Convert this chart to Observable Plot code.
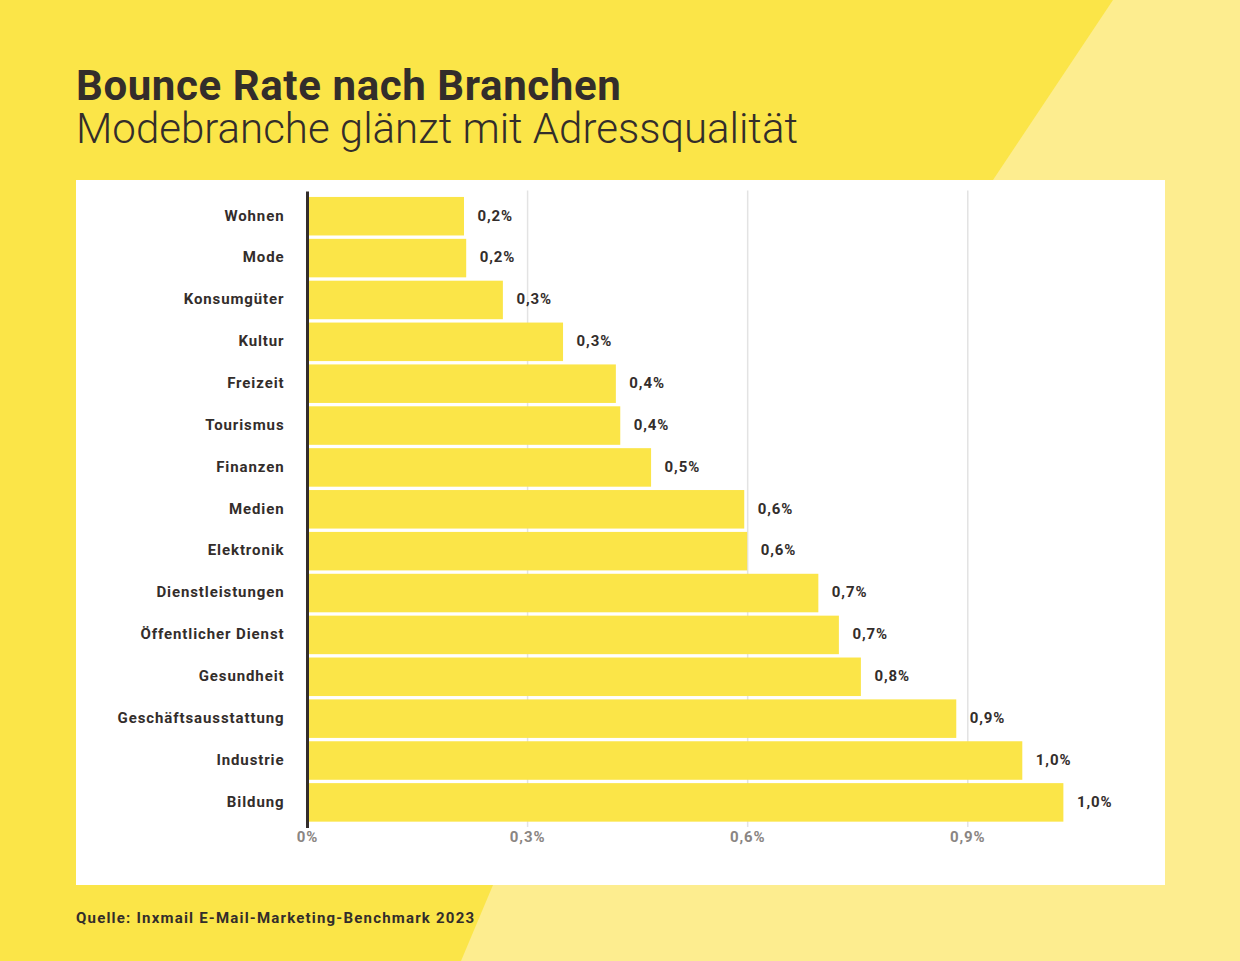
<!DOCTYPE html>
<html>
<head>
<meta charset="utf-8">
<script src="https://cdn.jsdelivr.net/npm/d3@7"></script>
<script src="https://cdn.jsdelivr.net/npm/@observablehq/plot@0.6"></script>
<style>
  html, body { margin: 0; padding: 0; }
  body { width: 1240px; height: 961px; overflow: hidden; font-family: Roboto, "Noto Sans", sans-serif; }
  #page { position: relative; width: 1240px; height: 961px; background: #FBE548; overflow: hidden; }
  .deco { position: absolute; background: #FDED8F; }
  #decoTop { left: 0; top: 0; width: 1240px; height: 961px; clip-path: polygon(1113px 0, 1240px 0, 1240px 961px, 993px 961px, 993px 180px); }
  #decoBottom { left: 0; top: 0; width: 1240px; height: 961px; clip-path: polygon(493px 885px, 1240px 885px, 1240px 961px, 461px 961px); }
  #title { position: absolute; left: 76px; top: 65px; font-size: 42px; line-height: 42px; font-weight: 700; letter-spacing: 0.6px; color: #332d2b; white-space: nowrap; }
  #subtitle { position: absolute; left: 76px; top: 108px; font-size: 42px; line-height: 42px; font-weight: 300; color: #332d2b; white-space: nowrap; }
  #panel { position: absolute; left: 76px; top: 180px; width: 1089px; height: 705px; background: #ffffff; }
  #caption { position: absolute; left: 76px; top: 911px; font-size: 15px; line-height: 15px; font-weight: 700; letter-spacing: 1.2px; color: #332d2b; white-space: nowrap; }
  #panel svg text { letter-spacing: 0.9px; }
</style>
</head>
<body>
<div id="page">
  <div class="deco" id="decoTop"></div>
  <div class="deco" id="decoBottom"></div>
  <div id="title">Bounce Rate nach Branchen</div>
  <div id="subtitle">Modebranche glänzt mit Adressqualität</div>
  <div id="panel"></div>
  <div id="caption">Quelle: Inxmail E-Mail-Marketing-Benchmark 2023</div>
</div>
<script>
const categories = ["Wohnen","Mode","Konsumgüter","Kultur","Freizeit","Tourismus","Finanzen","Medien","Elektronik","Dienstleistungen","Öffentlicher Dienst","Gesundheit","Geschäftsausstattung","Industrie","Bildung"];
const values = [0.214,0.217,0.267,0.349,0.421,0.427,0.469,0.596,0.600,0.697,0.725,0.755,0.885,0.975,1.031];
const valueLabels = ["0,2%","0,2%","0,3%","0,3%","0,4%","0,4%","0,5%","0,6%","0,6%","0,7%","0,7%","0,8%","0,9%","1,0%","1,0%"];
const xTicks = [0, 0.3, 0.6, 0.9];

const data = categories.map((c, i) => ({name: c, value: values[i], label: valueLabels[i]}));
const dark = "#332d2b";
const fmt = d => d === 0 ? "0%" : d.toFixed(1).replace(".", ",") + "%";

const chart = Plot.plot({
  width: 1089,
  height: 705,
  marginLeft: 231,
  marginRight: 51,
  marginTop: 13.6,
  marginBottom: 60,
  style: {fontFamily: "Roboto, sans-serif", background: "transparent"},
  x: {domain: [0, 1.1]},
  y: {domain: categories, padding: 0.08, round: false},
  marks: [
    Plot.gridX(xTicks.slice(1), {stroke: "#e3e3e3", strokeOpacity: 1, strokeWidth: 1.5, insetTop: -3, insetBottom: -2}),
    Plot.barX(data, {x: "value", y: "name", fill: "#FBE548"}),
    Plot.ruleX([0], {stroke: dark, strokeWidth: 3, insetTop: -2, insetBottom: -3}),
    Plot.text(data, {x: "value", y: "name", text: "label", dx: 13, dy: -1, textAnchor: "start", fill: dark, fontSize: 15, fontWeight: 700}),
    Plot.axisY({tickSize: 0, tickPadding: 23, fontSize: 15, fontWeight: 700, color: dark, label: null, dy: -1}),
    Plot.axisX({ticks: xTicks, tickSize: 0, tickPadding: 6, tickFormat: fmt, fontSize: 15, fontWeight: 700, color: "#8a8582", label: null})
  ]
});
document.getElementById("panel").appendChild(chart);
</script>
</body>
</html>
